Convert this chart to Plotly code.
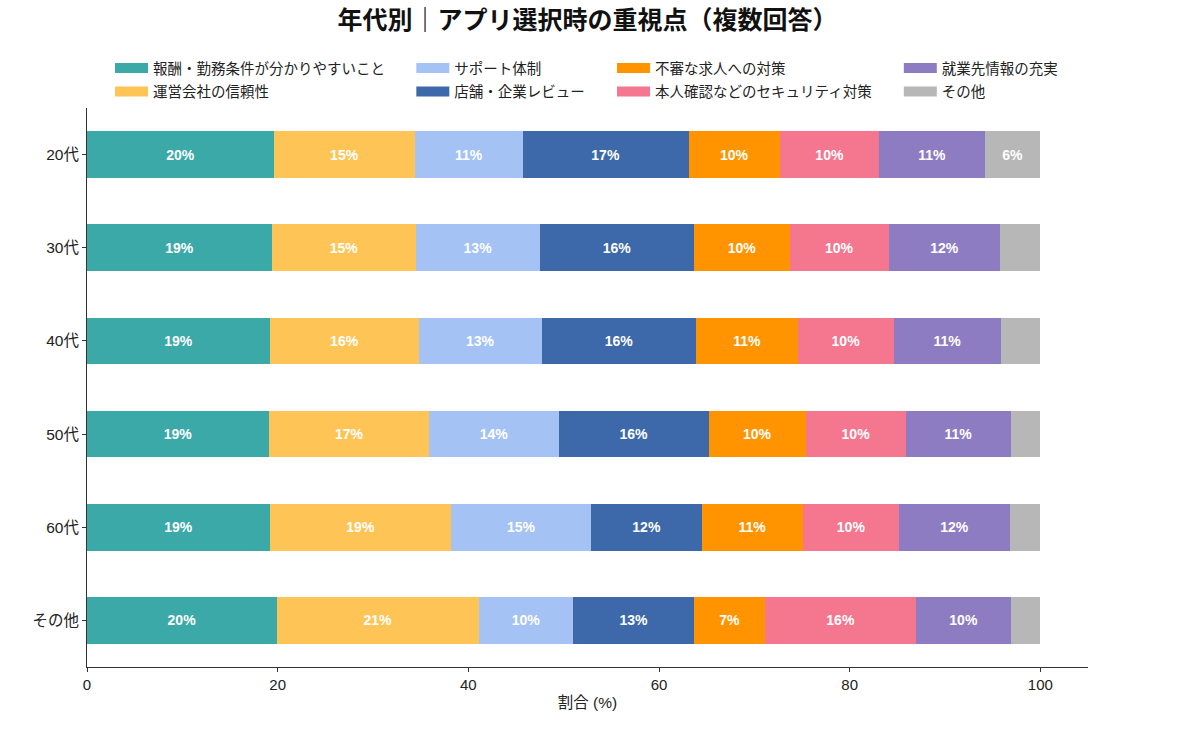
import plotly.graph_objects as go

# ---- data ----
ages = ["20代", "30代", "40代", "50代", "60代", "その他"]
series_names = [
    "報酬・勤務条件が分かりやすいこと",
    "運営会社の信頼性",
    "サポート体制",
    "店舗・企業レビュー",
    "不審な求人への対策",
    "本人確認などのセキュリティ対策",
    "就業先情報の充実",
    "その他",
]
reward = [19.6, 19.4, 19.2, 19.1, 19.2, 19.9]
trust = [14.8, 15.1, 15.6, 16.8, 19.0, 21.2]
support = [11.3, 13.0, 12.9, 13.6, 14.7, 9.9]
reviews = [17.4, 16.2, 16.2, 15.7, 11.6, 12.7]
fraud = [9.6, 10.0, 10.7, 10.2, 10.6, 7.4]
security = [10.4, 10.4, 10.0, 10.5, 10.1, 15.9]
workplace = [11.1, 11.7, 11.3, 11.0, 11.6, 9.9]
other = [5.8, 4.2, 4.1, 3.1, 3.2, 3.1]
series_values = [reward, trust, support, reviews, fraud, security, workplace, other]
x_ticks = [0, 20, 40, 60, 80, 100]

colors = ["#3CA9A9", "#FEC556", "#A4C2F4", "#3D69AA",
          "#FF9400", "#F4768F", "#8E7CC3", "#B7B7B7"]

FONT = "Liberation Sans, Noto Sans CJK JP, sans-serif"
TXT = "#222222"

fig = go.Figure()

legend_ids = ["legend", "legend", "legend2", "legend2",
              "legend3", "legend3", "legend4", "legend4"]

for i, (name, vals) in enumerate(zip(series_names, series_values)):
    labels = [f"{v:.0f}%" if v >= 5 else "" for v in vals]
    fig.add_trace(go.Bar(
        y=ages, x=vals, orientation="h", name=name,
        marker=dict(color=colors[i], line=dict(width=0)),
        text=labels, textposition="inside", insidetextanchor="middle",
        textangle=0,
        textfont=dict(color="white", size=14, family=FONT, weight="bold"),
        showlegend=False, legendgroup=f"g{i}", width=0.5,
        hovertemplate=name + "<br>%{y}: %{x:.1f}%<extra></extra>",
    ))
    # legend swatch entry
    fig.add_trace(go.Scatter(
        x=[None], y=[None], mode="lines", name=name,
        line=dict(color=colors[i], width=10),
        legendgroup=f"g{i}", legend=legend_ids[i], showlegend=True,
        hoverinfo="skip",
    ))

leg_common = dict(orientation="v", yanchor="top", xanchor="left",
                  font=dict(size=14.5, family=FONT, color=TXT),
                  bgcolor="rgba(0,0,0,0)", traceorder="grouped",
                  tracegroupgap=1.5, itemclick=False, itemdoubleclick=False,
                  itemwidth=33)
ly = 1.10
fig.update_layout(
    legend=dict(x=0.023, y=ly, **leg_common),
    legend2=dict(x=0.324, y=ly, **leg_common),
    legend3=dict(x=0.5245, y=ly, **leg_common),
    legend4=dict(x=0.811, y=ly, **leg_common),
)

fig.update_layout(
    barmode="stack",
    width=1200, height=745,
    margin=dict(l=87, r=112, t=108, b=78, autoexpand=False),
    paper_bgcolor="white", plot_bgcolor="white",
    font=dict(family=FONT, color=TXT, size=15),
    title=dict(text="<b>年代別｜アプリ選択時の重視点（複数回答）</b>",
               x=0.5, xref="paper", xanchor="center",
               y=1 - 20.5 / 745, yref="container", yanchor="middle",
               font=dict(size=25, family="Noto Sans CJK JP, sans-serif", color="#111111")),
    xaxis=dict(range=[0, 105], tickvals=x_ticks, ticktext=[str(t) for t in x_ticks],
               showgrid=False, zeroline=False, showline=True, linecolor="#333333",
               linewidth=1, ticks="outside", ticklen=4, tickcolor="#333333",
               tickfont=dict(size=15, family=FONT, color=TXT),
               title=dict(text="割合 (%)", font=dict(size=15.5, family=FONT, color=TXT),
                          standoff=5)),
    yaxis=dict(categoryorder="array", categoryarray=ages, range=[5.5, -0.5],
               showgrid=False, zeroline=False, showline=True, linecolor="#333333",
               linewidth=1, ticks="outside", ticklen=4, tickcolor="#333333",
               tickfont=dict(size=15.5, family=FONT, color=TXT)),
    bargap=0.5,
)

# remove the browser's default page margin so the figure sits at (0, 0)
fig.write_html("out.html", config={"displayModeBar": False},
               post_script="document.body.style.margin='0';")
